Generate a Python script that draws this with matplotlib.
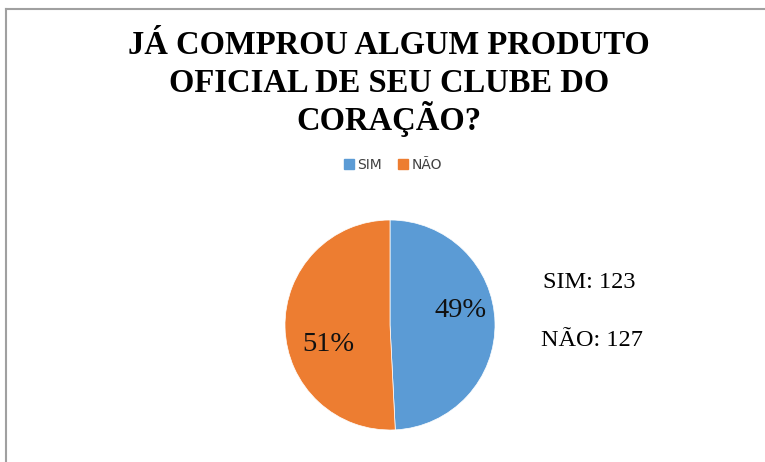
import matplotlib.pyplot as plt
from matplotlib.patches import Patch
from matplotlib.lines import Line2D

# dados
categorias = ['SIM', 'NÃO']
valores = [123, 127]
cores = ['#5B9BD5', '#ED7D31']
linhas_titulo = ['JÁ COMPROU ALGUM PRODUTO', 'OFICIAL DE SEU CLUBE DO', 'CORAÇÃO?']

fig = plt.figure(figsize=(7.65, 4.62), dpi=100)

# moldura cinza (só topo e esquerda aparecem no recorte)
fig.add_artist(Line2D([6.5 / 765, 6.5 / 765], [0, 1 - 9 / 462], color='#a0a0a0', lw=1.5))
fig.add_artist(Line2D([6.5 / 765, 1], [1 - 9 / 462, 1 - 9 / 462], color='#a0a0a0', lw=1.5))

# título, uma linha de cada vez
for i, linha in enumerate(linhas_titulo):
    fig.text(389 / 765, 1 - (54 + 38 * i) / 462, linha, ha='center', va='baseline',
             fontsize=23.5, fontweight='bold', family='Liberation Serif', color='black')

# pizza
r = 105
ax = fig.add_axes([(390 - r) / 765, 1 - (325 + r) / 462, 2 * r / 765, 2 * r / 462])
wedges, textos, autotextos = ax.pie(
    valores, colors=cores, startangle=90, counterclock=False,
    autopct=lambda p: f'{p:.0f}%', pctdistance=0.68,
    wedgeprops={'edgecolor': 'white', 'linewidth': 0.5},
    textprops={'fontsize': 20.5, 'family': 'Liberation Serif', 'color': '#111111'})
# posições dos rótulos como no Excel
autotextos[0].set_position((0.67, 0.14))
autotextos[1].set_position((-0.59, -0.19))
ax.set_xlim(-1, 1)
ax.set_ylim(-1, 1)
ax.set_aspect('equal')

# legenda
handles = [Patch(color=c, label=l) for c, l in zip(cores, categorias)]
fig.legend(handles=handles, loc='center', bbox_to_anchor=(393 / 765, 1 - 165 / 462),
           ncol=2, frameon=False, handlelength=0.7, handleheight=0.7,
           handletextpad=0.25, columnspacing=1.2,
           prop={'size': 10}, labelcolor='#404040')

# contagens ao lado
fig.text(543 / 765, 1 - 283 / 462, f'{categorias[0]}: {valores[0]}', ha='left', va='center',
         fontsize=17.5, family='Liberation Serif')
fig.text(541 / 765, 1 - 341 / 462, f'{categorias[1]}: {valores[1]}', ha='left', va='center',
         fontsize=17.5, family='Liberation Serif')

fig.savefig('out.png', dpi=100)
